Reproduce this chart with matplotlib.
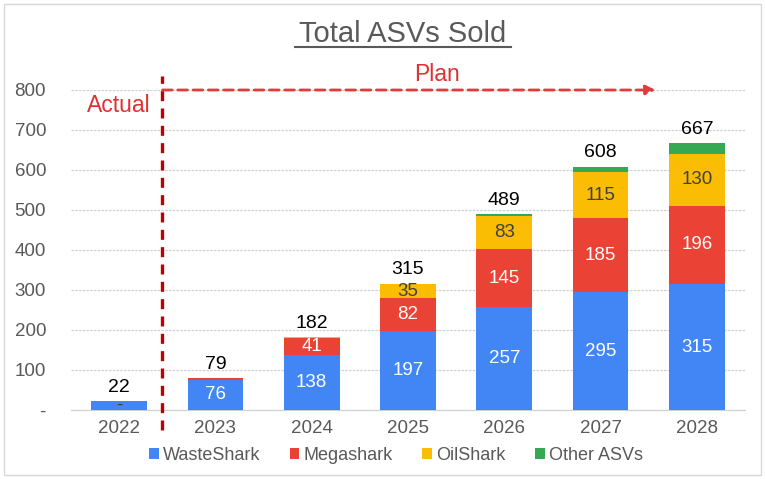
import matplotlib
matplotlib.use("Agg")
import matplotlib.pyplot as plt
import numpy as np
from matplotlib.patches import Rectangle

plt.rcParams['font.family'] = ['Liberation Sans', 'DejaVu Sans']

years = ["2022", "2023", "2024", "2025", "2026", "2027", "2028"]
wasteshark = [22, 76, 138, 197, 257, 295, 315]
megashark = [0, 3, 41, 82, 145, 185, 196]
oilshark = [0, 0, 3, 35, 83, 115, 130]
other = [0, 0, 0, 1, 4, 13, 26]
totals = [22, 79, 182, 315, 489, 608, 667]
ws_labels = ["-", "76", "138", "197", "257", "295", "315"]
ms_labels = ["", "", "41", "82", "145", "185", "196"]
os_labels = ["", "", "", "35", "83", "115", "130"]
yticks = [0, 100, 200, 300, 400, 500, 600, 700, 800]
ytick_labels = ["-", "100", "200", "300", "400", "500", "600", "700", "800"]

colors = {"WasteShark": "#4285F4", "Megashark": "#EA4335",
          "OilShark": "#FBBC04", "Other ASVs": "#34A853"}

fig = plt.figure(figsize=(7.65, 4.79), dpi=100)
ax = fig.add_axes([71/765, 1-410/479, (745-71)/765, 320/479])

x = np.arange(len(years))
w = 0.58
series = [("WasteShark", wasteshark), ("Megashark", megashark),
          ("OilShark", oilshark), ("Other ASVs", other)]
bottom = np.zeros(len(years))
for name, vals in series:
    ax.bar(x, vals, w, bottom=bottom, color=colors[name], label=name, zorder=3)
    bottom += np.array(vals)

fs = 13.5
ws = np.array(wasteshark); ms = np.array(megashark); os_ = np.array(oilshark)
for i in range(len(years)):
    if ws_labels[i]:
        ax.text(x[i], ws[i]/2, ws_labels[i], ha='center', va='center',
                color='white' if ws_labels[i] != "-" else '#404040', fontsize=fs, zorder=4)
    if ms_labels[i]:
        ax.text(x[i], ws[i] + ms[i]/2, ms_labels[i], ha='center', va='center',
                color='white', fontsize=fs, zorder=4)
    if os_labels[i]:
        ax.text(x[i], ws[i] + ms[i] + os_[i]/2, os_labels[i], ha='center', va='center',
                color='#404040', fontsize=fs, zorder=4)
    ax.text(x[i], totals[i] + 14, str(totals[i]), ha='center', va='bottom',
            color='black', fontsize=14, zorder=4)

ax.set_xlim(-0.5, 6.5)
ax.set_ylim(0, 800)
ax.set_yticks(yticks)
ax.set_yticklabels(ytick_labels)
ax.set_xticks(x)
ax.set_xticklabels(years)
ax.tick_params(axis='both', length=0, colors='#595959', labelsize=13.5)
ax.tick_params(axis='x', pad=7)
ax.tick_params(axis='y', pad=18)
ax.grid(axis='y', color='#d0d0d0', linewidth=0.9, linestyle=(0, (2, 1)), zorder=0)
for s in ['top', 'right', 'left']:
    ax.spines[s].set_visible(False)
ax.spines['bottom'].set_color('#d0d0d0')

# Actual / Plan markers
xd = 0.45
ax.plot([xd, xd], [-50, 835], color='#C00000', linestyle=(0, (3, 2.2)), linewidth=2.4,
        clip_on=False, zorder=5)
ax.annotate("", xy=(5.57, 800), xytext=(xd, 800),
            arrowprops=dict(arrowstyle='-|>', color='#E03C3C', linestyle=(0, (3.5, 2)),
                            linewidth=2, mutation_scale=14, shrinkA=0, shrinkB=0),
            annotation_clip=False, zorder=5)
ax.text(xd - 0.12, 760, "Actual", ha='right', va='center', color='#E03030', fontsize=16.5)
ax.text(3.3, 838, "Plan", ha='center', va='center', color='#E03030', fontsize=16.5)

# title
fig.text(403/765, 1-42/479, "Total ASVs Sold", ha='center', va='baseline',
         fontsize=21, color='#595959')
fig.add_artist(plt.Line2D([295/765, 511/765], [1-47/479, 1-47/479],
                          color='#595959', linewidth=1.5))

leg = fig.legend(loc='center', bbox_to_anchor=(396/765, 1-455/479), ncol=4,
                 frameon=False, fontsize=13, handlelength=0.55, handleheight=0.55,
                 handletextpad=0.25, columnspacing=1.6)
for txt in leg.get_texts():
    txt.set_color('#595959')

fig.add_artist(Rectangle((4/765, 4/479), 757/765, 471/479, transform=fig.transFigure,
                         fill=False, edgecolor='#d9d9d9', linewidth=1))

fig.savefig("out.png", dpi=100)
